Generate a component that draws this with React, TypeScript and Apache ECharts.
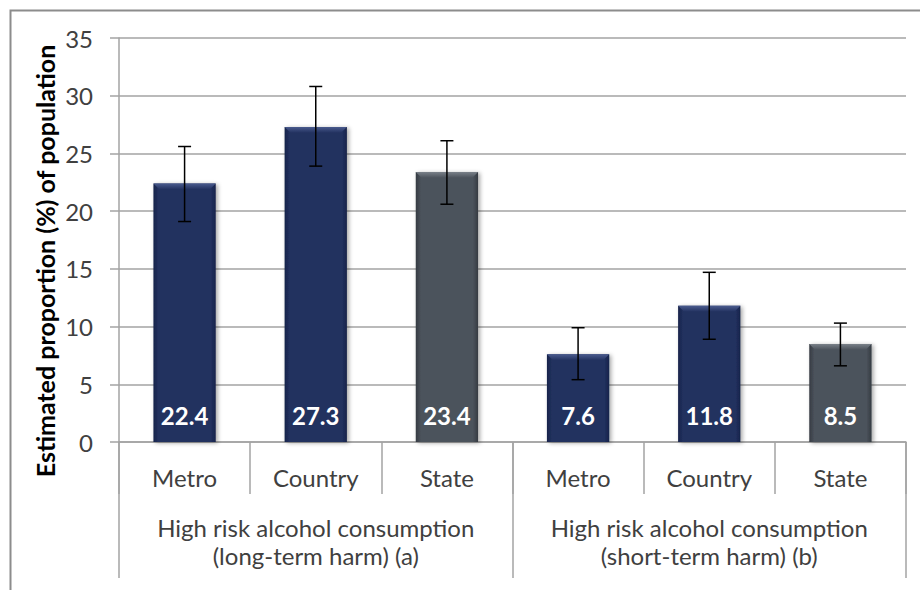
import React, { useEffect, useRef } from "react";
import * as echarts from "echarts";

// Area of residence for each bar, and the two harm groupings beneath them
const categories = ["Metro", "Country", "State", "Metro", "Country", "State"];
const groups = [
  "High risk alcohol consumption\n(long-term harm) (a)",
  "High risk alcohol consumption\n(short-term harm) (b)",
];

// Estimated proportion (%) with 95% confidence interval bounds
const values = [22.4, 27.3, 23.4, 7.6, 11.8, 8.5];
const lower = [19.1, 23.9, 20.6, 5.4, 8.9, 6.6];
const upper = [25.6, 30.8, 26.1, 9.9, 14.7, 10.3];

const yTicks = { min: 0, max: 35, interval: 5 };
const yTitle = "Estimated proportion (%) of population";

const FONT = "Lato, 'Open Sans', 'Noto Sans', sans-serif";
const TEXT = "#404040";
const RULE = "#a3a3a3";

const palette: Record<string, { body: string; edge: string; bevel: string }> = {
  Metro: { body: "#22315f", edge: "#17234a", bevel: "#4a5b8e" },
  Country: { body: "#22315f", edge: "#17234a", bevel: "#4a5b8e" },
  State: { body: "#4b525b", edge: "#353b42", bevel: "#7a8189" },
};

export default function App() {
  const ref = useRef<HTMLDivElement>(null);

  useEffect(() => {
    if (!ref.current) return;
    const chart = echarts.init(ref.current, undefined, { renderer: "svg" });

    const data = categories.map((c, i) => [i, values[i], lower[i], upper[i]]);

    const option: any = {
      animation: false,
      backgroundColor: "#ffffff",
      textStyle: { fontFamily: FONT },
      grid: { left: 119, right: 14, top: 38, bottom: 148 },
      xAxis: [
        {
          type: "category",
          data: categories,
          axisLine: { show: true, lineStyle: { color: RULE, width: 1.5 } },
          axisTick: { show: true, length: 52, interval: 0, lineStyle: { color: RULE, width: 1.5 } },
          axisLabel: { margin: 23, fontSize: 24, color: TEXT, fontFamily: FONT, interval: 0 },
        },
        {
          type: "category",
          data: groups,
          position: "bottom",
          axisLine: { show: false },
          axisTick: { show: true, length: 136, interval: 0, lineStyle: { color: RULE, width: 1.5 } },
          axisLabel: { margin: 71, fontSize: 24, lineHeight: 28, color: TEXT, fontFamily: FONT, interval: 0 },
        },
      ],
      yAxis: {
        type: "value",
        min: yTicks.min,
        max: yTicks.max,
        interval: yTicks.interval,
        axisLine: { show: true, lineStyle: { color: RULE, width: 1.5 } },
        axisTick: { show: true, length: 9, lineStyle: { color: RULE, width: 1.5 } },
        axisLabel: { margin: 26, fontSize: 24, color: TEXT, fontFamily: FONT },
        splitLine: { show: true, lineStyle: { color: RULE, width: 1.5 } },
      },
      graphic: [
        {
          type: "rect",
          left: 8,
          top: 8,
          shape: { width: 1000, height: 1000 },
          style: { fill: "none", stroke: "#8c8c8c", lineWidth: 2 },
          silent: true,
        },
        {
          type: "text",
          x: 45,
          y: 261,
          rotation: Math.PI / 2,
          style: {
            text: yTitle,
            fontFamily: FONT,
            fontWeight: "bold",
            fontSize: 25,
            fill: "#000000",
            align: "center",
            verticalAlign: "middle",
          },
        },
      ],
      series: [
        {
          type: "custom",
          xAxisIndex: 0,
          yAxisIndex: 0,
          encode: { x: 0, y: 1 },
          data,
          renderItem: (params: any, api: any) => {
            const idx = api.value(0);
            const v = api.value(1);
            const lo = api.value(2);
            const hi = api.value(3);
            const col = palette[categories[idx]];
            const base = api.coord([idx, 0]);
            const top = api.coord([idx, v]);
            const loP = api.coord([idx, lo]);
            const hiP = api.coord([idx, hi]);
            const w = api.size([1, 0])[0] * 0.475;
            const x0 = base[0] - w / 2;
            const x1 = base[0] + w / 2;
            const h = base[1] - top[1];
            const bev = 6;
            const cap = 6.5;
            return {
              type: "group",
              children: [
                {
                  type: "rect",
                  shape: { x: x0, y: top[1], width: w, height: h },
                  style: {
                    fill: new echarts.graphic.LinearGradient(0, 0, 1, 0, [
                      { offset: 0, color: col.edge },
                      { offset: 0.08, color: col.body },
                      { offset: 0.92, color: col.body },
                      { offset: 1, color: col.edge },
                    ]),
                    shadowBlur: 4,
                    shadowOffsetX: 2,
                    shadowOffsetY: 1,
                    shadowColor: "rgba(0,0,0,0.35)",
                  },
                },
                {
                  type: "polygon",
                  shape: {
                    points: [
                      [x0, top[1]],
                      [x1, top[1]],
                      [x1 - bev, top[1] + bev],
                      [x0 + bev, top[1] + bev],
                    ],
                  },
                  style: {
                    fill: new echarts.graphic.LinearGradient(0, 0, 0, 1, [
                      { offset: 0, color: col.bevel },
                      { offset: 1, color: col.body },
                    ]),
                  },
                },
                {
                  type: "line",
                  shape: { x1: base[0], y1: hiP[1], x2: base[0], y2: loP[1] },
                  style: { stroke: "#000000", lineWidth: 1.5 },
                },
                {
                  type: "line",
                  shape: { x1: base[0] - cap, y1: hiP[1], x2: base[0] + cap, y2: hiP[1] },
                  style: { stroke: "#000000", lineWidth: 1.5 },
                },
                {
                  type: "line",
                  shape: { x1: base[0] - cap, y1: loP[1], x2: base[0] + cap, y2: loP[1] },
                  style: { stroke: "#000000", lineWidth: 1.5 },
                },
                {
                  type: "text",
                  x: base[0],
                  y: base[1] - 27,
                  style: {
                    text: String(v.toFixed(1)),
                    fontFamily: FONT,
                    fontWeight: "bold",
                    fontSize: 24,
                    fill: "#ffffff",
                    align: "center",
                    verticalAlign: "middle",
                  },
                },
              ],
            };
          },
        },
      ],
    };

    chart.setOption(option);
    return () => chart.dispose();
  }, []);

  return (
    <div
      ref={ref}
      style={{ position: "fixed", left: 0, top: 0, width: 920, height: 590 }}
    />
  );
}
